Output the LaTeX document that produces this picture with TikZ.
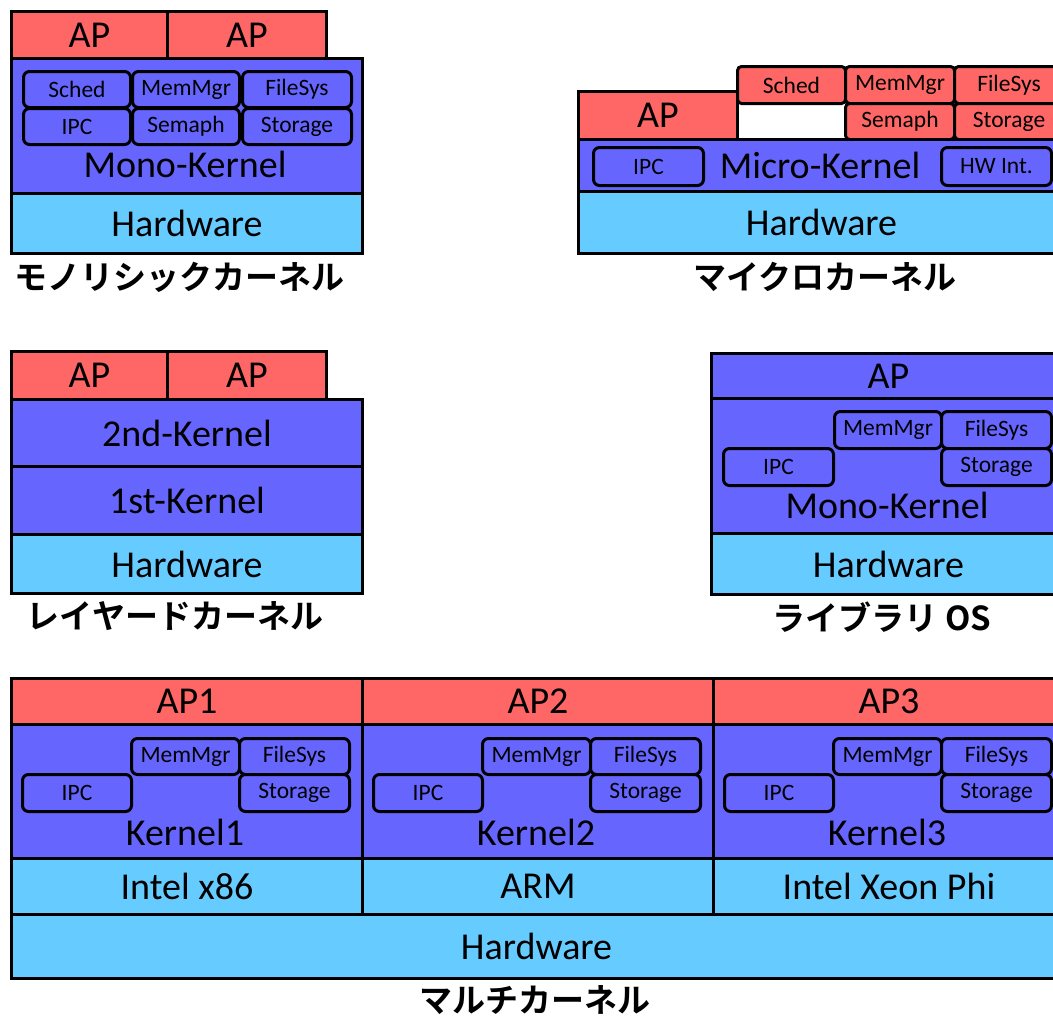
\documentclass[tikz,border=0pt]{standalone}
\usepackage{fontspec}
\setmainfont{Carlito}
\newfontfamily\jpfont{Noto Sans CJK JP}[BoldFont={Noto Sans CJK JP Bold}]
\usepackage{xcolor}
\usepackage{tikz}
\usetikzlibrary{positioning}

\definecolor{apred}{RGB}{255,102,102}
\definecolor{krnblue}{RGB}{102,102,255}
\definecolor{hwcyan}{RGB}{102,204,255}

\begin{document}
\begin{tikzpicture}[
  x=1pt, y=-1pt,
  lay/.style={draw, line width=3pt, anchor=north west, inner sep=0pt,
    font=\fontsize{38}{42}\selectfont},
  apl/.style={lay, fill=apred},
  krn/.style={lay, fill=krnblue},
  hwl/.style={lay, fill=hwcyan},
  txt/.style={inner sep=0pt, font=\fontsize{38}{42}\selectfont},
  mod/.style={draw, line width=3pt, rounded corners=6pt, fill=krnblue,
    anchor=north west, inner sep=0pt, font=\fontsize{23.5}{26}\selectfont},
  modr/.style={mod, fill=apred, rounded corners=4pt},
  title/.style={inner sep=0pt, font=\jpfont\bfseries\fontsize{33}{36}\selectfont},
]
\useasboundingbox (0,0) rectangle (1053,1020);
\clip (0,0) rectangle (1053,1020);

% monolithic kernel
\node[apl, minimum width=156pt, minimum height=47pt] (mono-ap1) at (10,10) {AP};
\node[apl, minimum width=159pt, minimum height=47pt] (mono-ap2) at (166,10) {AP};
\node[krn, minimum width=351pt, minimum height=135pt] (mono-k) at (10,57) {};
\node[hwl, minimum width=351pt, minimum height=60pt] (mono-hw) at (10,192) {Hardware};
\node[mod, minimum width=107pt, minimum height=36pt] (mono-sched) at (22,70) {Sched};
\node[mod, minimum width=107pt, minimum height=36pt] (mono-mem) at (131,70) {MemMgr};
\node[mod, minimum width=109pt, minimum height=36pt] (mono-fs) at (241,70) {FileSys};
\node[mod, minimum width=107pt, minimum height=36pt] (mono-ipc) at (22,107) {IPC};
\node[mod, minimum width=107pt, minimum height=36pt] (mono-sem) at (131,107) {Semaph};
\node[mod, minimum width=109pt, minimum height=36pt] (mono-st) at (241,107) {Storage};
\node[txt] (mono-kt) at (185,164) {Mono-Kernel};
\node[title] (mono-title) at (180,277) {モノリシックカーネル};

% micro kernel
\node[apl, minimum width=159pt, minimum height=48pt] (micro-ap) at (577,90) {AP};
\node[modr, minimum width=108pt, minimum height=37pt] (micro-sched) at (736,65) {Sched};
\node[modr, minimum width=109pt, minimum height=37pt] (micro-mem) at (844,65) {MemMgr};
\node[modr, minimum width=109pt, minimum height=37pt] (micro-fs) at (953,65) {FileSys};
\node[modr, minimum width=109pt, minimum height=36pt] (micro-sem) at (844,102) {Semaph};
\node[modr, minimum width=109pt, minimum height=36pt] (micro-st) at (953,102) {Storage};
\node[krn, minimum width=490pt, minimum height=52pt] (micro-k) at (577,138) {};
\node[hwl, minimum width=486pt, minimum height=62pt] (micro-hw) at (577,190) {Hardware};
\node[mod, minimum width=110pt, minimum height=38pt] (micro-ipc) at (592,146) {IPC};
\node[mod, minimum width=110pt, minimum height=38pt] (micro-hwi) at (940,146) {HW Int.};
\node[txt] (micro-kt) at (820,165) {Micro-Kernel};
\node[title] (micro-title) at (825,277) {マイクロカーネル};

% layered kernel
\node[apl, minimum width=156pt, minimum height=48pt] (lay-ap1) at (10,350) {AP};
\node[apl, minimum width=159pt, minimum height=48pt] (lay-ap2) at (166,350) {AP};
\node[krn, minimum width=351pt, minimum height=67pt] (lay-k2) at (10,398) {2nd-Kernel};
\node[krn, minimum width=351pt, minimum height=68pt] (lay-k1) at (10,465) {1st-Kernel};
\node[hwl, minimum width=351pt, minimum height=59pt] (lay-hw) at (10,533) {Hardware};
\node[title] (lay-title) at (175,616) {レイヤードカーネル};

% library OS
\node[krn, minimum width=354pt, minimum height=45pt] (lib-ap) at (710,352) {AP};
\node[krn, minimum width=354pt, minimum height=135pt] (lib-k) at (710,397) {};
\node[hwl, minimum width=354pt, minimum height=61pt] (lib-hw) at (710,532) {Hardware};
\node[mod, minimum width=107pt, minimum height=37pt] (lib-mem) at (833,410) {MemMgr};
\node[mod, minimum width=110pt, minimum height=37pt] (lib-fs) at (940,410) {FileSys};
\node[mod, minimum width=110pt, minimum height=37pt] (lib-ipc) at (722,447) {IPC};
\node[mod, minimum width=110pt, minimum height=37pt] (lib-st) at (940,447) {Storage};
\node[txt] (lib-kt) at (887,505) {Mono-Kernel};
\node[title] (lib-title) at (882,617) {ライブラリ OS};

% multi kernel
\node[apl, minimum width=351pt, minimum height=46pt] (mk-ap1) at (10,677) {AP1};
\node[apl, minimum width=351pt, minimum height=46pt] (mk-ap2) at (361,677) {AP2};
\node[apl, minimum width=351pt, minimum height=46pt] (mk-ap3) at (712,677) {AP3};
\node[krn, minimum width=351pt, minimum height=134pt] (mk-k1) at (10,723) {};
\node[krn, minimum width=351pt, minimum height=134pt] (mk-k2) at (361,723) {};
\node[krn, minimum width=351pt, minimum height=134pt] (mk-k3) at (712,723) {};
\node[hwl, minimum width=351pt, minimum height=56pt] (mk-cpu1) at (10,857) {Intel x86};
\node[hwl, minimum width=351pt, minimum height=56pt] (mk-cpu2) at (361,857) {ARM};
\node[hwl, minimum width=351pt, minimum height=56pt] (mk-cpu3) at (712,857) {Intel Xeon Phi};
\node[hwl, minimum width=1050pt, minimum height=64pt] (mk-hw) at (10,913) {Hardware};
\node[mod, minimum width=108pt, minimum height=36pt] (mk-mem1) at (130,737) {MemMgr};
\node[mod, minimum width=110pt, minimum height=36pt] (mk-fs1) at (238,737) {FileSys};
\node[mod, minimum width=109pt, minimum height=37pt] (mk-ipc1) at (21,773) {IPC};
\node[mod, minimum width=110pt, minimum height=37pt] (mk-st1) at (238,773) {Storage};
\node[mod, minimum width=108pt, minimum height=36pt] (mk-mem2) at (481,737) {MemMgr};
\node[mod, minimum width=110pt, minimum height=36pt] (mk-fs2) at (589,737) {FileSys};
\node[mod, minimum width=109pt, minimum height=37pt] (mk-ipc2) at (372,773) {IPC};
\node[mod, minimum width=110pt, minimum height=37pt] (mk-st2) at (589,773) {Storage};
\node[mod, minimum width=108pt, minimum height=36pt] (mk-mem3) at (832,737) {MemMgr};
\node[mod, minimum width=110pt, minimum height=36pt] (mk-fs3) at (940,737) {FileSys};
\node[mod, minimum width=109pt, minimum height=37pt] (mk-ipc3) at (723,773) {IPC};
\node[mod, minimum width=110pt, minimum height=37pt] (mk-st3) at (940,773) {Storage};
\node[txt] (mk-kt1) at (185,832) {Kernel1};
\node[txt] (mk-kt2) at (536,832) {Kernel2};
\node[txt] (mk-kt3) at (887,832) {Kernel3};
\node[title] (mk-title) at (535,1000) {マルチカーネル};
\end{tikzpicture}
\end{document}
